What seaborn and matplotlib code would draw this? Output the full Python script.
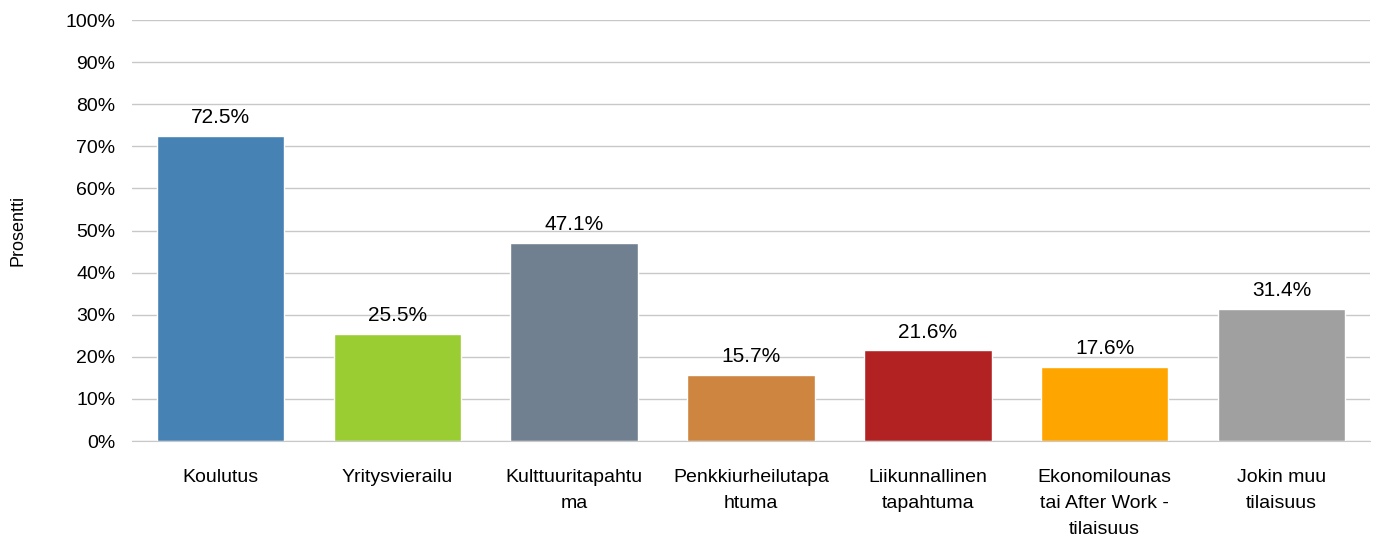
import matplotlib
matplotlib.use("Agg")
import matplotlib.pyplot as plt
import seaborn as sns
import pandas as pd

# data
kategoriat = ["Koulutus", "Yritysvierailu", "Kulttuuritapahtu\nma", "Penkkiurheilutapa\nhtuma",
              "Liikunnallinen\ntapahtuma", "Ekonomilounas\ntai After Work -\ntilaisuus", "Jokin muu\ntilaisuus"]
prosentit = [72.5, 25.5, 47.1, 15.7, 21.6, 17.6, 31.4]
varit = ["#4682B4", "#9ACD32", "#708090", "#CD853F", "#B22222", "#FFA500", "#A0A0A0"]

df = pd.DataFrame({"kategoria": kategoriat, "prosentti": prosentit})

sns.set_style("white")
plt.rcParams["font.family"] = ["Liberation Sans", "DejaVu Sans"]

fig = plt.figure(figsize=(13.83, 5.45), dpi=100)
ax = fig.add_axes([0.0954, 0.1908, 0.8952, 0.7725])

sns.barplot(data=df, x="kategoria", y="prosentti", hue="kategoria", palette=varit,
            width=0.72, legend=False, ax=ax, saturation=1)

ax.set_ylim(0, 100)
ax.set_yticks(range(0, 101, 10))
ax.set_yticklabels([f"{v}%" for v in range(0, 101, 10)], fontsize=14, color="black")
ax.yaxis.grid(True, color="#C8C8C8", linewidth=1)
ax.set_axisbelow(True)
for s in ["top", "right", "left"]:
    ax.spines[s].set_visible(False)
ax.spines["bottom"].set_color("#C8C8C8")
ax.tick_params(axis="y", length=0, pad=12)
ax.tick_params(axis="x", length=0, pad=20)
for t in ax.get_xticklabels():
    t.set_fontsize(14)
    t.set_color("black")
    t.set_linespacing(1.7)
ax.set_xlabel("")
ax.set_ylabel("Prosentti", fontsize=13, color="black")
ax.yaxis.set_label_coords(-0.085, 0.5)
ax.set_xlim(-0.5, len(kategoriat) - 0.5)

# arvojen tekstit
for i, v in enumerate(prosentit):
    ax.text(i, v + 2, f"{v:.1f}%", ha="center", va="bottom", fontsize=15, color="black")

fig.savefig("out.png", dpi=100)
